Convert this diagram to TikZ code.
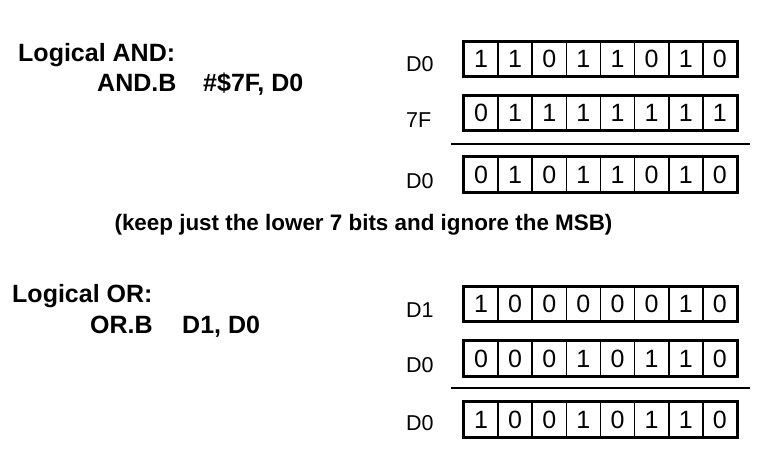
\documentclass[tikz,border=0pt]{standalone}
\usepackage{fontspec}
\setmainfont{Liberation Sans}

\tikzset{
  bit/.style={draw, line width=1.6pt, minimum width=34.125pt, minimum height=34.5pt, inner sep=0pt, font=\fontsize{25}{25}\selectfont},
  frame/.style={line width=2.4pt},
  reg/.style={anchor=base west, inner sep=0pt, font=\fontsize{21.5}{21.5}\selectfont},
  title/.style={anchor=base west, inner sep=0pt, font=\fontsize{25}{25}\selectfont\bfseries},
  rule/.style={line width=2.2pt},
}
% 8ビットのレジスタ
\newcommand{\bitrow}[3]{%
  \foreach \b [count=\i] in {#3}
    \node[bit] (#1-\i) at ({464+34.125*(\i-0.5)},#2) {\b};
  \draw[frame] (#1-1.north west) rectangle (#1-8.south east);
}

\begin{document}
\begin{tikzpicture}[x=1pt,y=-1pt]
    \useasboundingbox (0,0) rectangle (775,468);

    % 論理積
    \node[title] (andT) at (18,62) {Logical AND:};
    \node[title] (andOp) at (97,92) {AND.B};
    \node[title] (andArg) at (203,92) {\#\$7F, D0};

    \node[reg] (andL1) at (406,72) {D0};
    \node[reg] (andL2) at (406,127) {7F};
    \node[reg] (andL3) at (406,188) {D0};
    \bitrow{andA}{59}{1,1,0,1,1,0,1,0}
    \bitrow{andB}{113}{0,1,1,1,1,1,1,1}
    \bitrow{andR}{174.5}{0,1,0,1,1,0,1,0}

    \coordinate (andS1) at (451,144);
    \coordinate (andS2) at (750,144);
    \draw[rule] (andS1) -- (andS2);

    \node[anchor=base, inner sep=0pt, font=\fontsize{22.4}{22.4}\selectfont\bfseries] (note) at (363.5,230)
      {(keep just the lower 7 bits and ignore the MSB)};

    % 論理和
    \node[title] (orT) at (12,302) {Logical OR:};
    \node[title] (orOp) at (90,333) {OR.B};
    \node[title] (orArg) at (182,333) {D1, D0};

    \node[reg] (orL1) at (406,317) {D1};
    \node[reg] (orL2) at (406,372) {D0};
    \node[reg] (orL3) at (406,430) {D0};
    \bitrow{orA}{304}{1,0,0,0,0,0,1,0}
    \bitrow{orB}{358.5}{0,0,0,1,0,1,1,0}
    \bitrow{orR}{419.5}{1,0,0,1,0,1,1,0}

    \coordinate (orS1) at (451,388);
    \coordinate (orS2) at (750,388);
    \draw[rule] (orS1) -- (orS2);
\end{tikzpicture}
\end{document}
